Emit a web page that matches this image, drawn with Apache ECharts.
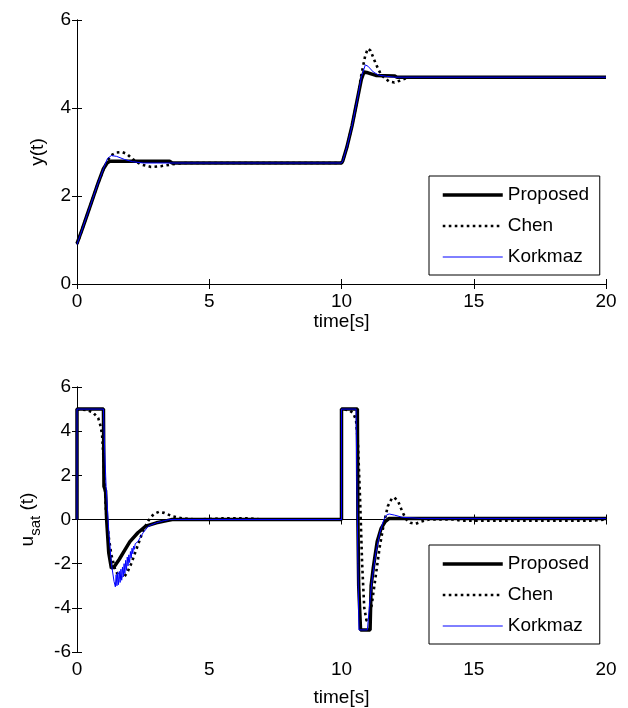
<!DOCTYPE html>
<html>
<head>
<meta charset="utf-8">
<script src="https://cdn.jsdelivr.net/npm/echarts@6/dist/echarts.min.js"></script>
<style>
html,body{margin:0;padding:0;background:#fff;}
#c{width:628px;height:708px;}
</style>
</head>
<body>
<div id="c"></div>
<script>
// ---------- data ----------
var xTicks = [0, 5, 10, 15, 20];
var seriesNames = ['Proposed', 'Chen', 'Korkmaz'];

// top plot: y(t)
var yPropT = [0, 0.2, 0.4, 0.6, 0.8, 1.0, 1.15, 1.25, 2.0, 3.5, 3.6, 10.0, 10.05, 10.2, 10.4, 10.6, 10.75, 10.85, 11.0, 11.3, 12.0, 12.1, 20];
var yPropV = [0.92, 1.25, 1.6, 1.95, 2.3, 2.62, 2.76, 2.79, 2.79, 2.79, 2.75, 2.75, 2.8, 3.1, 3.6, 4.2, 4.65, 4.82, 4.8, 4.74, 4.73, 4.7, 4.7];

var yChenT = [0, 0.2, 0.4, 0.6, 0.8, 1.0, 1.15, 1.3, 1.5, 1.7, 1.9, 2.1, 2.4, 2.8, 3.2, 3.6, 4.0, 10.0, 10.05, 10.2, 10.4, 10.6, 10.75, 10.9, 11.0, 11.1, 11.3, 11.5, 11.8, 12.0, 12.2, 12.5, 13, 20];
var yChenV = [0.9, 1.25, 1.6, 1.95, 2.3, 2.6, 2.8, 2.93, 2.99, 3.0, 2.95, 2.84, 2.72, 2.66, 2.68, 2.72, 2.75, 2.75, 2.8, 3.1, 3.6, 4.2, 4.75, 5.2, 5.35, 5.3, 5.0, 4.75, 4.6, 4.58, 4.62, 4.69, 4.7, 4.7];

var yKorkT = [0, 0.2, 0.4, 0.6, 0.8, 1.0, 1.15, 1.3, 1.5, 1.8, 2.1, 2.5, 3.0, 10.0, 10.05, 10.2, 10.4, 10.6, 10.75, 10.9, 11.0, 11.2, 11.4, 11.7, 12.0, 20];
var yKorkV = [0.9, 1.25, 1.6, 1.95, 2.3, 2.62, 2.85, 2.92, 2.9, 2.83, 2.78, 2.75, 2.75, 2.75, 2.8, 3.1, 3.6, 4.2, 4.7, 4.98, 4.95, 4.82, 4.75, 4.72, 4.7, 4.7];

// bottom plot: u_sat(t)
var uPropT = [0, 0, 1.0, 1.02, 1.08, 1.12, 1.2, 1.3, 1.4, 1.6, 1.8, 2.0, 2.3, 2.6, 3.0, 3.4, 3.6, 10.0, 10.0, 10.6, 10.62, 10.65, 10.72, 11.08, 11.12, 11.2, 11.35, 11.5, 11.65, 11.8, 20];
var uPropV = [0, 5, 5, 1.5, 1.3, 0, -1.5, -2.2, -2.15, -1.8, -1.4, -1.0, -0.6, -0.3, -0.15, -0.05, 0, 0, 5, 5, 0, -3, -5, -5, -3, -2.2, -1.0, -0.4, -0.1, 0.05, 0.05];

var uChenT = [0, 0.4, 0.6, 0.8, 0.9, 0.95, 1.0, 1.05, 1.1, 1.2, 1.3, 1.45, 1.6, 1.75, 1.9, 2.05, 2.2, 2.35, 2.5, 2.7, 2.9, 3.1, 3.3, 3.6, 4.0, 4.5, 5.5, 6.5, 7.0, 10.0, 10.0, 10.3, 10.45, 10.55, 10.62, 10.7, 10.78, 10.86, 10.95, 11.05, 11.15, 11.3, 11.45, 11.6, 11.75, 11.9, 12.0, 12.15, 12.3, 12.45, 12.6, 12.8, 13.0, 13.3, 14.3, 14.5, 19.5, 20];
var uChenV = [5, 4.95, 4.85, 4.6, 4.2, 3.8, 2.8, 1.5, 0.3, -0.8, -1.6, -2.3, -2.6, -2.65, -2.4, -2.0, -1.5, -1.0, -0.5, -0.05, 0.25, 0.35, 0.3, 0.15, 0.05, 0, 0.05, 0.05, 0, 0, 5, 4.95, 4.8, 4.5, 3.5, 1, -2, -4, -4.6, -4.5, -3.8, -2.5, -1.2, -0.2, 0.6, 0.95, 1.0, 0.8, 0.35, 0, -0.15, -0.2, -0.1, 0, 0, -0.05, -0.05, 0];

var uKorkT = [0, 0, 1.0, 1.05, 1.1, 1.2, 1.3, 1.4, 1.45, 1.48, 1.51, 1.54, 1.57, 1.6, 1.63, 1.66, 1.69, 1.72, 1.75, 1.78, 1.81, 1.84, 1.87, 1.9, 1.93, 1.96, 1.99, 2.02, 2.05, 2.08, 2.11, 2.14, 2.17, 2.2, 2.3, 2.5, 2.7, 3.0, 3.3, 3.5, 10.0, 10.0, 10.55, 10.58, 10.62, 10.66, 10.98, 11.05, 11.15, 11.3, 11.45, 11.6, 11.7, 11.8, 12.0, 12.3, 13.0, 20];
var uKorkV = [0, 5, 5, 3, 1.5, -0.5, -2.0, -2.8, -3.05, -2.5, -3.0, -2.4, -2.95, -2.35, -2.85, -2.25, -2.75, -2.15, -2.6, -2.0, -2.45, -1.85, -2.3, -1.7, -2.1, -1.6, -1.95, -1.45, -1.75, -1.3, -1.55, -1.2, -1.35, -1.1, -1.0, -0.6, -0.3, -0.15, -0.05, 0, 0, 5, 5, 2, -2, -5, -5, -4, -2.8, -1.5, -0.6, 0, 0.2, 0.25, 0.2, 0.1, 0.05, 0.05];

// ---------- build ----------
function zip(t, v) { return t.map(function (x, i) { return [x, v[i]]; }); }

var FONT = "'Liberation Sans', Arial, sans-serif";
var FS = 19;

var styles = {
  Proposed: { color: '#000000', width: 3.5, type: 'solid' },
  Chen: { color: '#000000', width: 2.6, type: [2.6, 3.4] },
  Korkmaz: { color: '#0000ff', width: 1, type: 'solid' }
};

function mkSeries(name, data, xi, yi) {
  var s = styles[name];
  return {
    type: 'line', name: name, data: data,
    xAxisIndex: xi, yAxisIndex: yi,
    showSymbol: false, symbol: 'none', smooth: false,
    lineStyle: { color: s.color, width: s.width, type: s.type, cap: 'butt' },
    itemStyle: { color: s.color },
    z: 3, animation: false
  };
}

var gridL = 77, gridR = 22;
var grids = [
  { left: gridL, right: gridR, top: 20, height: 264 },
  { left: gridL, right: gridR, top: 387, height: 265 }
];

var xAxes = [], yAxes = [];
function addAxes(gi, ymin, ymax, yname, nameGapX, nameGapY, yNameRich) {
  var common = {
    axisLine: { show: true, lineStyle: { color: '#000', width: 1 } },
    axisTick: { show: true, inside: true, length: 5, lineStyle: { color: '#000' } },
    splitLine: { show: false }
  };
  xAxes.push(Object.assign({
    type: 'value', gridIndex: gi, min: 0, max: 20, interval: 5, position: 'bottom',
    axisLabel: { color: '#000', fontSize: FS, fontFamily: FONT, margin: 8 },
    name: 'time[s]', nameLocation: 'middle', nameGap: nameGapX,
    nameTextStyle: { color: '#000', fontSize: FS, fontFamily: FONT }
  }, common));
  xAxes.push(Object.assign({
    type: 'value', gridIndex: gi, min: 0, max: 20, interval: 5, position: 'top',
    axisLabel: { show: false }
  }, common));
  var yMain = Object.assign({
    type: 'value', gridIndex: gi, min: ymin, max: ymax, interval: 2, position: 'left',
    axisLabel: { color: '#000', fontSize: FS, fontFamily: FONT, margin: 6 },
    name: yname, nameLocation: 'middle', nameRotate: 90, nameGap: nameGapY,
    nameTextStyle: { color: '#000', fontSize: FS, fontFamily: FONT }
  }, common);
  if (yNameRich) yMain.nameTextStyle.rich = yNameRich;
  yAxes.push(yMain);
  yAxes.push(Object.assign({
    type: 'value', gridIndex: gi, min: ymin, max: ymax, interval: 2, position: 'right',
    axisLabel: { show: false }
  }, common));
}

addAxes(0, 0, 6, 'y(t)', 28, 30);
addAxes(1, -6, 6, '{a|u}{b|sat}{a| (t)}', 36, 33, {
  a: { fontSize: 19, fontFamily: FONT, color: '#000', lineHeight: 30, verticalAlign: 'middle' },
  b: { fontSize: 15, fontFamily: FONT, color: '#000', lineHeight: 30, verticalAlign: 'bottom' }
});

var series = [
  mkSeries('Proposed', zip(yPropT, yPropV), 0, 0),
  mkSeries('Chen', zip(yChenT, yChenV), 0, 0),
  mkSeries('Korkmaz', zip(yKorkT, yKorkV), 0, 0),
  mkSeries('Proposed', zip(uPropT, uPropV), 2, 2),
  mkSeries('Chen', zip(uChenT, uChenV), 2, 2),
  mkSeries('Korkmaz', zip(uKorkT, uKorkV), 2, 2)
];

function mkLegend(top) {
  return {
    orient: 'vertical', left: 429, top: top,
    data: seriesNames.map(function (n) {
      var s = styles[n];
      return { name: n, lineStyle: { color: s.color, width: s.width, type: s.type, cap: 'butt' } };
    }),
    backgroundColor: '#fff', borderColor: '#000', borderWidth: 1, borderRadius: 0,
    padding: [9, 8, 8, 12],
    itemWidth: 60, itemHeight: 20, itemGap: 11,
    selectedMode: false,
    itemStyle: { opacity: 0, color: 'rgba(0,0,0,0)', borderWidth: 0 },
    textStyle: { color: '#000', fontSize: FS, fontFamily: FONT, width: 84, lineHeight: 20 }
  };
}

var chart = echarts.init(document.getElementById('c'), null, { renderer: 'canvas' });
chart.setOption({
  animation: false,
  backgroundColor: '#fff',
  grid: grids,
  xAxis: xAxes,
  yAxis: yAxes,
  legend: [mkLegend(176), mkLegend(545)],
  series: series
});
</script>
</body>
</html>
